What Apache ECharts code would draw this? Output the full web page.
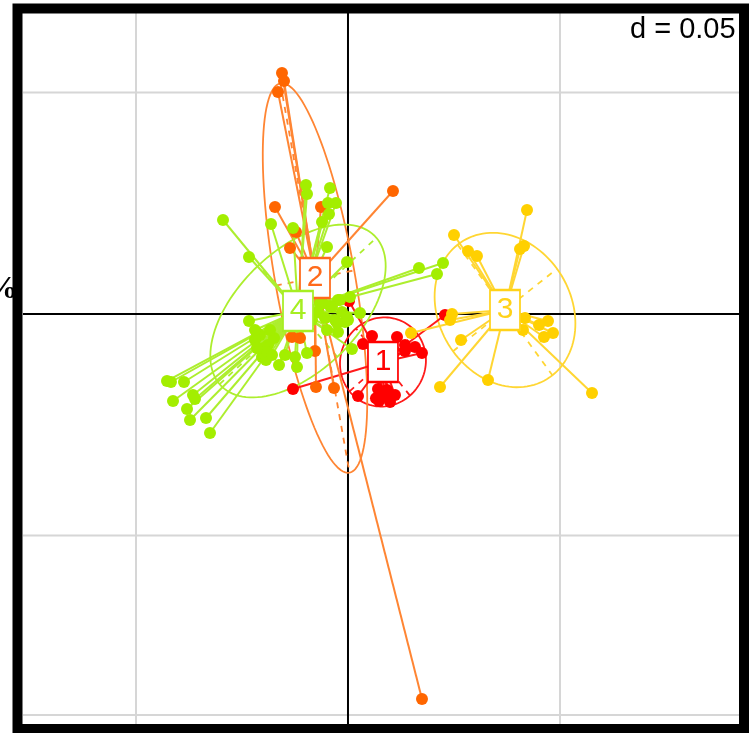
<!DOCTYPE html>
<html>
<head>
<meta charset="utf-8">
<script src="https://cdn.jsdelivr.net/npm/echarts@6/dist/echarts.min.js"></script>
<style>html,body{margin:0;padding:0;background:#fff}#c{width:750px;height:733px}</style>
</head>
<body>
<div id="c"></div>
<script>
// ---- data ----
const groupNames = ['1', '2', '3', '4'];
const group1 = [[0.00566,-0.00497],[0.00354,-0.00677],[0.01156,-0.00519],[0.01344,-0.00700],[0.01580,-0.00745],[0.01745,-0.00880],[0.01344,-0.00835],[0.02288,-0.00023],[-0.01297,-0.01693],[0.00236,-0.01851],[0.00708,-0.01693],[0.00920,-0.01716],[0.00731,-0.01964],[0.00991,-0.01986],[0.00849,-0.01851],[0.00024,0.00293],[0.01108,-0.01828],[0.00660,-0.01900],[0.00780,-0.01780]];
const group2 = [[-0.01557,0.05440],[-0.01509,0.05260],[-0.01651,0.05011],[0.01061,0.02776],[-0.01722,0.02415],[-0.00637,0.02415],[-0.01226,0.01851],[-0.01368,0.01490],[-0.01321,-0.00519],[-0.01132,-0.00542],[-0.00778,-0.00835],[-0.00755,-0.01648],[-0.00330,-0.01670],[0.01745,-0.08691]];
const group3 = [[0.04222,0.02348],[0.02500,0.01783],[0.02830,0.01422],[0.03042,0.01309],[0.04057,0.01467],[0.04151,0.01535],[0.02453,0.00000],[0.02406,-0.00135],[0.02665,-0.00587],[0.02170,-0.01648],[0.03302,-0.01490],[0.04175,-0.00090],[0.04505,-0.00248],[0.04717,-0.00158],[0.04623,-0.00519],[0.04835,-0.00429],[0.05755,-0.01783],[0.01486,-0.00429],[0.04127,-0.00361]];
const group4 = [[-0.02948,0.02122],[-0.02335,0.01287],[-0.01816,0.02032],[-0.01297,0.01941],[-0.00991,0.02912],[-0.00967,0.02709],[-0.00425,0.02844],[-0.00472,0.02506],[-0.00283,0.02506],[-0.00448,0.02257],[-0.00613,0.02077],[-0.00495,0.01512],[-0.00024,0.01174],[0.01675,0.01038],[0.02099,0.00903],[0.02241,0.01151],[0.00047,0.00384],[0.00283,0.00023],[0.00094,-0.00790],[-0.00236,0.00316],[-0.00425,0.00181],[-0.00142,0.00045],[-0.00307,-0.00135],[-0.00542,-0.00090],[-0.00071,-0.00181],[-0.00660,0.00248],[-0.00590,0.00248],[-0.00377,0.00158],[-0.00189,0.00316],[-0.00024,-0.00068],[-0.00259,-0.00203],[-0.00495,-0.00361],[-0.00236,-0.00406],[0.00000,-0.00135],[-0.00708,0.00045],[-0.00849,-0.00135],[-0.04269,-0.01512],[-0.04175,-0.01535],[-0.03868,-0.01535],[-0.03656,-0.01828],[-0.03609,-0.01919],[-0.04127,-0.01964],[-0.03797,-0.02144],[-0.03726,-0.02393],[-0.03349,-0.02348],[-0.03255,-0.02686],[-0.02335,-0.00158],[-0.02146,-0.00429],[-0.02028,-0.00971],[-0.01934,-0.01038],[-0.01627,-0.01151],[-0.01203,-0.01196],[-0.02075,-0.00474],[-0.01887,-0.00700],[-0.01745,-0.00542],[-0.01981,-0.00767],[-0.02193,-0.00587],[-0.01840,-0.00361],[-0.02193,-0.00361],[-0.01910,-0.00858],[-0.02146,-0.00767],[-0.01792,-0.00925],[-0.01486,-0.00925],[-0.01250,-0.00971],[-0.00967,-0.00880]];
const groups = [group1, group2, group3, group4];
const centers = [[0.00825,-0.01083],[-0.00778,0.00813],[0.03703,0.00090],[-0.01179,0.00068]];
// ellipse: [cx, cy, semi-major, semi-minor, angle in degrees]
const ellipses = [[0.00825,-0.01083,0.0103,0.0099,40],[-0.00778,0.00813,0.0447,0.0094,-79.5],[0.03703,0.00090,0.0185,0.0154,-52.8],[-0.01179,0.00068,0.0248,0.0139,41.8]];
const gridX = [-0.05, 0.05];
const gridY = [-0.05, 0.05];
const scaleLabel = 'd = 0.05';

// ---- styles ----
const dotColors = ['#FF0000', '#FF6600', '#FFD000', '#A3EE00'];
const lineColors = ['#FF1A1A', '#FF8533', '#FFD633', '#ADEE2E'];
const textColors = ['#FF0000', '#FF6A1A', '#FFD21A', '#A6EE22'];

const chart = echarts.init(document.getElementById('c'), null, {renderer: 'canvas'});

function gridRender(params, api) {
  const cs = params.coordSys;
  const kind = api.value(2);
  const v = kind === 0 ? api.value(0) : api.value(1);
  const color = api.value(3) === 1 ? '#000000' : '#d6d6d6';
  if (kind === 0) {
    const x = api.coord([v, 0])[0];
    return {type: 'line', shape: {x1: x, y1: cs.y, x2: x, y2: cs.y + cs.height}, style: {stroke: color, lineWidth: 2}};
  }
  const y = api.coord([0, v])[1];
  return {type: 'line', shape: {x1: cs.x, y1: y, x2: cs.x + cs.width, y2: y}, style: {stroke: color, lineWidth: 2}};
}
const gridData = [];
gridX.forEach(v => gridData.push([v, 0, 0, 0]));
gridY.forEach(v => gridData.push([0, v, 1, 0]));
gridData.push([0, -0.0905, 1, 0]);
gridData.push([0, 0, 0, 1]);
gridData.push([0, 0, 1, 1]);

function ellipseRender(params, api) {
  const i = params.dataIndex;
  const cx = api.value(0), cy = api.value(1), a = api.value(2), b = api.value(3);
  const th = api.value(4) * Math.PI / 180;
  const pts = [];
  for (let k = 0; k <= 120; k++) {
    const t = k / 120 * 2 * Math.PI;
    const x = cx + a * Math.cos(t) * Math.cos(th) - b * Math.sin(t) * Math.sin(th);
    const y = cy + a * Math.cos(t) * Math.sin(th) + b * Math.sin(t) * Math.cos(th);
    pts.push(api.coord([x, y]));
  }
  const ua = [Math.cos(th), Math.sin(th)], ub = [-Math.sin(th), Math.cos(th)];
  const p1 = api.coord([cx - a * ua[0], cy - a * ua[1]]), p2 = api.coord([cx + a * ua[0], cy + a * ua[1]]);
  const q1 = api.coord([cx - b * ub[0], cy - b * ub[1]]), q2 = api.coord([cx + b * ub[0], cy + b * ub[1]]);
  const st = {stroke: lineColors[i], lineWidth: 1.8, fill: null};
  const ds = {stroke: lineColors[i], lineWidth: 1.8, lineDash: [6, 6]};
  return {type: 'group', children: [
    {type: 'polyline', shape: {points: pts}, style: st},
    {type: 'line', shape: {x1: p1[0], y1: p1[1], x2: p2[0], y2: p2[1]}, style: ds},
    {type: 'line', shape: {x1: q1[0], y1: q1[1], x2: q2[0], y2: q2[1]}, style: ds}
  ]};
}

const series = [];
series.push({type: 'custom', data: gridData, renderItem: gridRender, silent: true, z: 1, animation: false, clip: true});
series.push({type: 'custom', data: ellipses, renderItem: ellipseRender, silent: true, z: 2, animation: false});
groups.forEach((pts, gi) => {
  series.push({
    type: 'custom', data: pts, silent: true, z: 3, animation: false,
    renderItem: function (params, api) {
      const p = api.coord([api.value(0), api.value(1)]);
      const c = api.coord(centers[gi]);
      return {type: 'line', shape: {x1: c[0], y1: c[1], x2: p[0], y2: p[1]}, style: {stroke: lineColors[gi], lineWidth: 2}};
    }
  });
});
groups.forEach((pts, gi) => {
  series.push({type: 'scatter', data: pts, symbol: 'circle', symbolSize: 12, itemStyle: {color: dotColors[gi], opacity: 1}, silent: true, z: 4, animation: false});
});
series.push({
  type: 'scatter', z: 5, silent: true, animation: false, symbol: 'rect', symbolSize: [30, 40],
  data: centers.map((c, i) => ({
    value: c, name: groupNames[i],
    itemStyle: {color: '#ffffff', borderColor: textColors[i], borderWidth: 2, opacity: 1},
    label: {show: true, position: 'inside', formatter: groupNames[i], color: textColors[i], fontSize: 30, fontFamily: 'Liberation Sans'}
  }))
});

chart.setOption({
  animation: false,
  backgroundColor: '#ffffff',
  grid: {left: 23, top: 13, width: 716, height: 712, containLabel: false},
  xAxis: {type: 'value', min: -0.07665, max: 0.09222, show: false, splitLine: {show: false}},
  yAxis: {type: 'value', min: -0.09278, max: 0.06795, show: false, splitLine: {show: false}},
  series: series,
  graphic: [
    {type: 'rect', z: 100, shape: {x: 17.5, y: 8.5, width: 726.5, height: 720.5}, style: {fill: null, stroke: '#000', lineWidth: 10}},
    {type: 'text', z: 100, left: 630, top: 15, style: {text: scaleLabel, fontSize: 29, fontFamily: 'Liberation Sans', fill: '#000', backgroundColor: '#fff'}},
    {type: 'text', z: 100, x: -14, y: 274, style: {text: '%', fontSize: 32, fontWeight: 'bold', fontFamily: 'Liberation Serif', fill: '#000'}}
  ]
});
</script>
</body>
</html>
